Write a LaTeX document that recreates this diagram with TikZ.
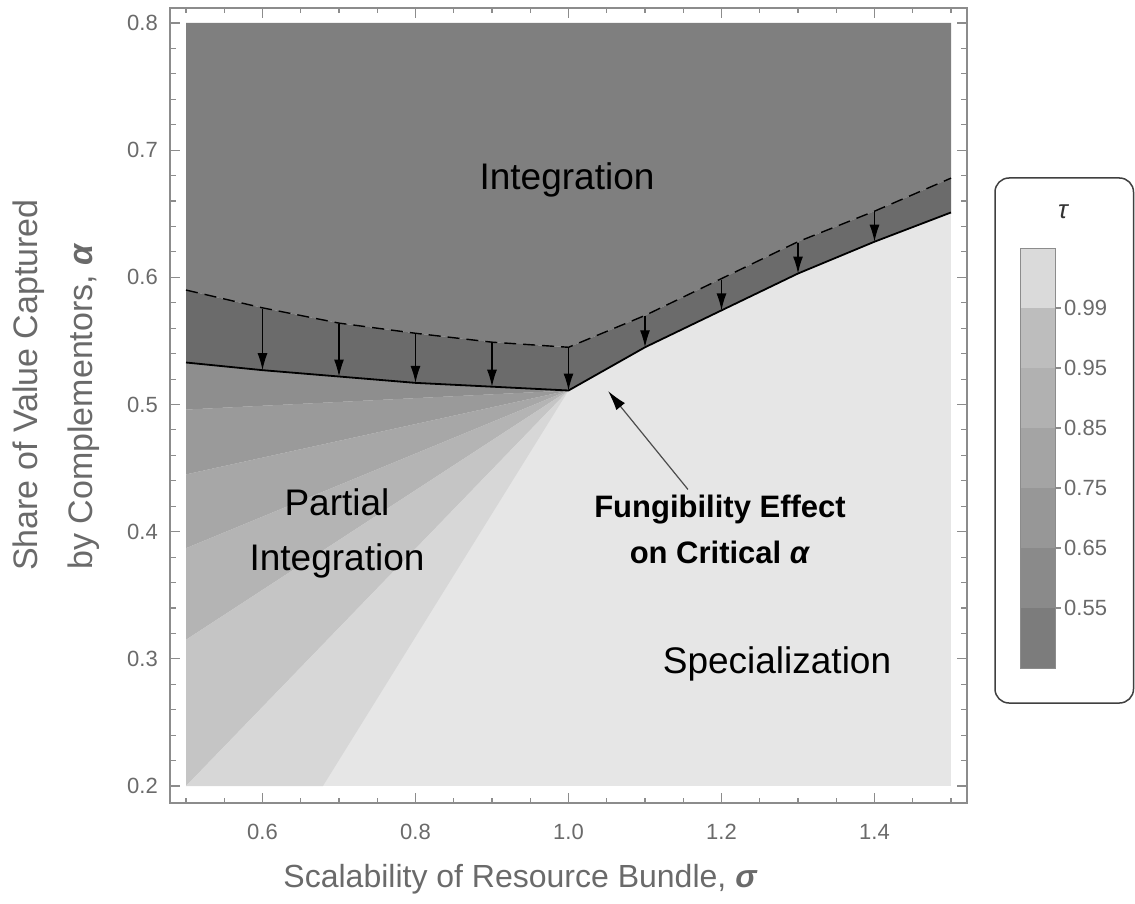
\documentclass[tikz,border=0pt]{standalone}
\usepackage{fontspec}
\setmainfont{Liberation Sans}
\usetikzlibrary{arrows.meta}
\definecolor{framegray}{HTML}{8C8C8C}
\definecolor{tickgray}{HTML}{6A6A6A}
\definecolor{integgray}{HTML}{7F7F7F}
\definecolor{bandgray}{HTML}{6B6B6B}
\definecolor{fanA}{HTML}{8E8E8E}
\definecolor{fanB}{HTML}{9A9A9A}
\definecolor{fanC}{HTML}{A7A7A7}
\definecolor{fanD}{HTML}{B4B4B4}
\definecolor{fanE}{HTML}{C5C5C5}
\definecolor{fanF}{HTML}{D7D7D7}
\definecolor{specgray}{HTML}{E6E6E6}
\definecolor{barA}{HTML}{DADADA}
\definecolor{barB}{HTML}{BDBDBD}
\definecolor{barC}{HTML}{B1B1B1}
\definecolor{barD}{HTML}{A4A4A4}
\definecolor{barE}{HTML}{979797}
\definecolor{barF}{HTML}{8A8A8A}
\definecolor{barG}{HTML}{7C7C7C}
\tikzset{
  frameline/.style={draw=framegray, line width=1.3pt},
  tickline/.style={draw=framegray, line width=1.1pt},
  ticklabel/.style={text=tickgray, inner sep=0pt, font=\fontsize{22}{26}\selectfont},
  axistitle/.style={text=tickgray, inner sep=0pt, font=\fontsize{32}{38}\selectfont},
  region/.style={inner sep=0pt, align=center, font=\fontsize{37}{55}\selectfont},
  critline/.style={line width=1.8pt},
  oldline/.style={line width=1.4pt, dash pattern=on 12pt off 7pt},
  shiftarrow/.style={line width=1.3pt, shorten <=1pt, -{Latex[length=17pt,width=10pt]}},
}
\begin{document}
\begin{tikzpicture}[x=1pt,y=-1pt]
  \useasboundingbox (0,0) rectangle (1135,904);
  % plot region in (sigma, alpha)
  \begin{scope}[shift={(-196.5pt,-1040.34pt)},x=765pt,y=1271.7pt]
    \coordinate (s05) at (0.5,0.533);
    \coordinate (s06) at (0.6,0.527);
    \coordinate (s07) at (0.7,0.522);
    \coordinate (s08) at (0.8,0.517);
    \coordinate (s09) at (0.9,0.514);
    \coordinate (s10) at (1.0,0.511);
    \coordinate (s11) at (1.1,0.545);
    \coordinate (s12) at (1.2,0.574);
    \coordinate (s13) at (1.3,0.603);
    \coordinate (s14) at (1.4,0.628);
    \coordinate (s15) at (1.5,0.651);
    \coordinate (d05) at (0.5,0.590);
    \coordinate (d06) at (0.6,0.576);
    \coordinate (d07) at (0.7,0.564);
    \coordinate (d08) at (0.8,0.556);
    \coordinate (d09) at (0.9,0.549);
    \coordinate (d10) at (1.0,0.545);
    \coordinate (d11) at (1.1,0.570);
    \coordinate (d12) at (1.2,0.599);
    \coordinate (d13) at (1.3,0.628);
    \coordinate (d14) at (1.4,0.652);
    \coordinate (d15) at (1.5,0.678);
    \fill[specgray] (0.5,0.2) rectangle (1.5,0.8);
    \fill[integgray] (0.5,0.8) -- (1.5,0.8) -- (d15) -- (d14) -- (d13) -- (d12) -- (d11)
      -- (d10) -- (d09) -- (d08) -- (d07) -- (d06) -- (d05) -- cycle;
    \fill[bandgray] (d05) -- (d06) -- (d07) -- (d08) -- (d09) -- (d10) -- (d11) -- (d12)
      -- (d13) -- (d14) -- (d15) -- (s15) -- (s14) -- (s13) -- (s12) -- (s11) -- (s10)
      -- (s09) -- (s08) -- (s07) -- (s06) -- (s05) -- cycle;
    \fill[fanA] (s10) -- (s09) -- (s08) -- (s07) -- (s06) -- (s05) -- (0.5,0.496) -- cycle;
    \fill[fanB] (s10) -- (0.5,0.496) -- (0.5,0.445) -- cycle;
    \fill[fanC] (s10) -- (0.5,0.445) -- (0.5,0.387) -- cycle;
    \fill[fanD] (s10) -- (0.5,0.387) -- (0.5,0.315) -- cycle;
    \fill[fanE] (s10) -- (0.5,0.315) -- (0.5,0.2) -- cycle;
    \fill[fanF] (s10) -- (0.5,0.2) -- (0.679,0.2) -- cycle;
    \draw[oldline] (d05) -- (d06) -- (d07) -- (d08) -- (d09) -- (d10) -- (d11) -- (d12)
      -- (d13) -- (d14) -- (d15);
    \draw[critline] (s05) -- (s06) -- (s07) -- (s08) -- (s09) -- (s10) -- (s11) -- (s12)
      -- (s13) -- (s14) -- (s15);
    \draw[shiftarrow] (d06) -- (s06);
    \draw[shiftarrow] (d07) -- (s07);
    \draw[shiftarrow] (d08) -- (s08);
    \draw[shiftarrow] (d09) -- (s09);
    \draw[shiftarrow] (d10) -- (s10);
    \draw[shiftarrow] (d11) -- (s11);
    \draw[shiftarrow] (d12) -- (s12);
    \draw[shiftarrow] (d13) -- (s13);
    \draw[shiftarrow] (d14) -- (s14);
  \end{scope}
  % frame and ticks
  \draw[frameline] (170,8) rectangle (967,803);
  \foreach \i in {0,...,20} {
    \draw[tickline] (186+38.25*\i,803) -- ++(0,-5);
    \draw[tickline] (186+38.25*\i,8) -- ++(0,5);
  }
  \foreach \s in {0.6,0.8,1.0,1.2,1.4} {
    \draw[tickline] (765*\s-196.5,803) -- ++(0,-10);
    \draw[tickline] (765*\s-196.5,8) -- ++(0,10);
    \node[ticklabel, anchor=base] (xl\s) at (765*\s-196.5,839) {\s};
  }
  \foreach \i in {0,...,30} {
    \draw[tickline] (170,786-25.434*\i) -- ++(6,0);
    \draw[tickline] (967,786-25.434*\i) -- ++(-6,0);
  }
  \foreach \a in {0.2,0.3,0.4,0.5,0.6,0.7,0.8} {
    \draw[tickline] (170,1040.34-1271.7*\a) -- ++(10,0);
    \draw[tickline] (967,1040.34-1271.7*\a) -- ++(-10,0);
    \node[ticklabel, anchor=east] (yl\a) at (158,1040.34-1271.7*\a) {\a};
  }
  % axis titles
  \node[axistitle, anchor=base] (xtitle) at (520,887)
    {Scalability of Resource Bundle, {\bfseries\itshape σ}};
  \node[axistitle, rotate=90, font=\fontsize{34}{40}\selectfont] (ytitleA) at (29,385)
    {Share of Value Captured};
  \node[axistitle, rotate=90, font=\fontsize{34}{40}\selectfont] (ytitleB) at (84,407)
    {by Complementors, {\bfseries\itshape α}};
  % region labels
  \node[region, anchor=base] (integlab) at (567,190) {Integration};
  \node[region] (partlab) at (337,533) {Partial\\Integration};
  \node[region, anchor=base] (speclab) at (777,673) {Specialization};
  \node[align=center, inner sep=5pt, font=\bfseries\fontsize{31}{46}\selectfont] (funglab)
    at (720,529) {Fungibility Effect\\on Critical \textit{α}};
  \coordinate (fungtip) at (608,391);
  \draw[line width=1.2pt, draw=black!70, -{Latex[length=20pt,width=11pt,color=black]}]
    (funglab) -- (fungtip);
  % legend
  \draw[line width=1.5pt, draw=black!75, fill=white, rounded corners=14pt]
    (995,178) rectangle (1133.5,703);
  \node[font=\itshape\fontsize{26}{30}\selectfont, text=black!80] (taulab) at (1063,212) {τ};
  \foreach \c [count=\k from 0] in {barA,barB,barC,barD,barE,barF,barG}
    \fill[\c] (1020,248+60*\k) rectangle (1055,308+60*\k);
  \draw[draw=framegray, line width=0.8pt] (1020,248) rectangle (1055,668);
  \foreach \v [count=\k] in {0.99,0.95,0.85,0.75,0.65,0.55} {
    \draw[tickline] (1055,248+60*\k) -- ++(6,0);
    \node[ticklabel, anchor=west] (bar\k) at (1064,248+60*\k) {\v};
  }
\end{tikzpicture}
\end{document}
